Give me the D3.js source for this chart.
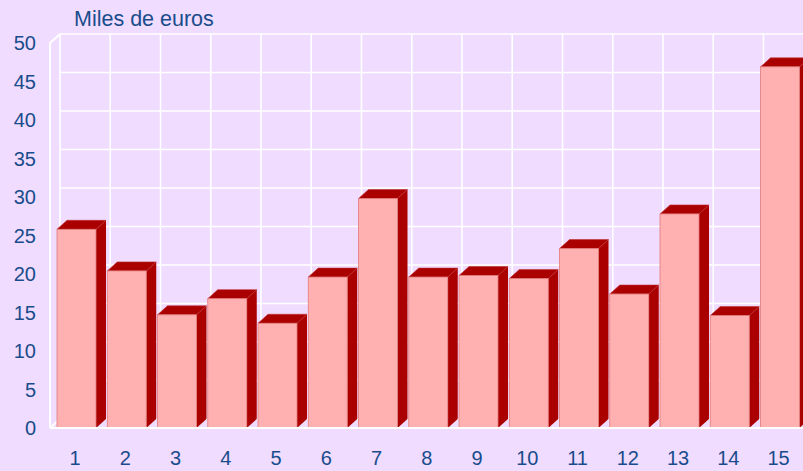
<!DOCTYPE html>
<html>
<head>
<meta charset="utf-8">
<script src="https://cdn.jsdelivr.net/npm/d3@7"></script>
<style>
  html, body { margin: 0; padding: 0; background: #EFDCFF; overflow: hidden; }
  svg { display: block; }
</style>
</head>
<body>
<svg></svg>
<script>
const categories = ["1", "2", "3", "4", "5", "6", "7", "8", "9", "10", "11", "12", "13", "14", "15"];
const values = [25.8, 20.4, 14.7, 16.8, 13.6, 19.6, 29.8, 19.6, 19.8, 19.4, 23.3, 17.4, 27.8, 14.6, 46.9];
const yTicks = [0, 5, 10, 15, 20, 25, 30, 35, 40, 45, 50];
const yTitle = "Miles de euros";

const width = 803, height = 471;
const depth = {x: 10, y: 9};
const step = 50.25;
const textColor = "#1A4C8B";

const svg = d3.select("svg")
    .attr("width", width)
    .attr("height", height);

svg.append("rect")
    .attr("width", width)
    .attr("height", height)
    .attr("fill", "#EFDCFF");

// front plane scales
const x = d3.scaleBand()
    .domain(categories)
    .range([50, 50 + step * categories.length])
    .paddingInner(0)
    .paddingOuter(0);

const y = d3.scaleLinear()
    .domain([0, 50])
    .range([428, 43]);

// back wall grid
const grid = svg.append("g")
    .attr("transform", `translate(${depth.x},${-depth.y})`)
    .attr("stroke", "#fff")
    .attr("stroke-width", 1.6);

grid.selectAll("line.h")
    .data(yTicks)
    .enter().append("line")
    .attr("x1", x.range()[0])
    .attr("x2", width)
    .attr("y1", d => y(d))
    .attr("y2", d => y(d));

grid.selectAll("line.v")
    .data(categories)
    .enter().append("line")
    .attr("x1", d => x(d))
    .attr("x2", d => x(d))
    .attr("y1", y(50))
    .attr("y2", y(0));

// axis lines in front
const axes = svg.append("g")
    .attr("stroke", "#fff")
    .attr("stroke-width", 2)
    .attr("fill", "none");

axes.append("path")
    .attr("d", `M${x.range()[0]},${y(0)} V${y(50)} l${depth.x},${-depth.y}`);
axes.append("path")
    .attr("d", `M${x.range()[0]},${y(0)} l${depth.x},${-depth.y}`);

// bars
const barLeft = 7, barRight = 46;
const bars = svg.append("g")
    .selectAll("g")
    .data(categories.map((c, i) => ({cat: c, value: values[i]})))
    .enter().append("g");

bars.append("polygon")
    .attr("fill", "#AA0000")
    .attr("points", d => {
        const x1 = x(d.cat) + barRight, yt = y(d.value), yb = y(0);
        return [[x1, yt], [x1 + depth.x, yt - depth.y], [x1 + depth.x, yb - depth.y], [x1, yb]].join(" ");
    });

bars.append("polygon")
    .attr("fill", "#AA0000")
    .attr("stroke", "#C03030")
    .attr("stroke-width", 0.6)
    .attr("points", d => {
        const x0 = x(d.cat) + barLeft, x1 = x(d.cat) + barRight, yt = y(d.value);
        return [[x0, yt], [x1, yt], [x1 + depth.x, yt - depth.y], [x0 + depth.x, yt - depth.y]].join(" ");
    });

bars.append("rect")
    .attr("x", d => x(d.cat) + barLeft)
    .attr("y", d => y(d.value))
    .attr("width", barRight - barLeft)
    .attr("height", d => y(0) - y(d.value))
    .attr("fill", "#FFB0B0")
    .attr("stroke", "#E07A7A")
    .attr("stroke-width", 0.8);

// bottom front edge
svg.append("line")
    .attr("x1", x.range()[0])
    .attr("x2", width)
    .attr("y1", y(0))
    .attr("y2", y(0))
    .attr("stroke", "#fff")
    .attr("stroke-width", 2);

// y tick labels
svg.append("g")
    .selectAll("text")
    .data(yTicks)
    .enter().append("text")
    .attr("x", 36)
    .attr("y", d => y(d))
    .attr("dy", "0.35em")
    .attr("text-anchor", "end")
    .attr("font-family", "Liberation Sans, Arial, sans-serif")
    .attr("font-size", 20)
    .attr("fill", textColor)
    .text(d => d);

// x tick labels
svg.append("g")
    .selectAll("text")
    .data(categories)
    .enter().append("text")
    .attr("x", d => x(d) + x.bandwidth() / 2)
    .attr("y", 465)
    .attr("text-anchor", "middle")
    .attr("font-family", "Liberation Sans, Arial, sans-serif")
    .attr("font-size", 20)
    .attr("fill", textColor)
    .text(d => d);

svg.append("text")
    .attr("x", 74)
    .attr("y", 26)
    .attr("font-family", "Liberation Sans, Arial, sans-serif")
    .attr("font-size", 21.5)
    .attr("fill", textColor)
    .text(yTitle);
</script>
</body>
</html>
